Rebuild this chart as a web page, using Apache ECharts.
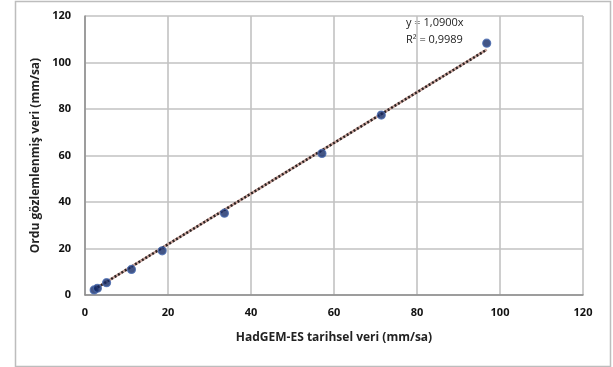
<!DOCTYPE html>
<html>
<head>
<meta charset="utf-8">
<script src="https://cdn.jsdelivr.net/npm/echarts@6/dist/echarts.min.js"></script>
<style>
  html, body { margin: 0; padding: 0; background: #fff; }
  #chart { width: 613px; height: 367px; }
</style>
</head>
<body>
<div id="chart"></div>
<script>
// HadGEM-ES historical vs. Ordu observed values (mm/sa)
const modelValues = [2.2, 3.0, 5.2, 11.2, 18.6, 33.6, 57.1, 71.4, 96.8];
const observedValues = [2.2, 2.9, 5.3, 11.0, 19.0, 35.2, 60.9, 77.4, 108.3];
const trendSlope = 1.09;
const trendText = ['y = 1,0900x', 'R² = 0,9989'];
const axisTicks = [0, 20, 40, 60, 80, 100, 120];

const points = modelValues.map((x, i) => [x, observedValues[i]]);
const xMin = Math.min(...modelValues), xMax = Math.max(...modelValues);
const trend = [[xMin, trendSlope * xMin], [xMax, trendSlope * xMax]];

const font = '"Open Sans", "DejaVu Sans", sans-serif';
const gridColor = '#c2c2c2';

const chart = echarts.init(document.getElementById('chart'));
chart.setOption({
  animation: false,
  backgroundColor: '#fff',
  grid: { left: 85, right: 30, top: 16, bottom: 72 },
  xAxis: {
    type: 'value', min: axisTicks[0], max: axisTicks[axisTicks.length - 1], interval: 20,
    name: 'HadGEM-ES tarihsel veri (mm/sa)',
    nameLocation: 'middle', nameGap: 37,
    nameTextStyle: { fontFamily: font, fontWeight: 'bold', fontSize: 12, color: '#222' },
    axisLine: { lineStyle: { color: '#8c8c8c', width: 1.5 } },
    axisTick: { show: false },
    axisLabel: { fontFamily: font, fontWeight: 'bold', fontSize: 11, color: '#111', margin: 12 },
    splitLine: { show: true, lineStyle: { color: gridColor, width: 1.6 } }
  },
  yAxis: {
    type: 'value', min: axisTicks[0], max: axisTicks[axisTicks.length - 1], interval: 20,
    name: 'Ordu gözlemlenmiş veri (mm/sa)',
    nameLocation: 'middle', nameGap: 39,
    nameTextStyle: { fontFamily: font, fontWeight: 'bold', fontSize: 12, color: '#222' },
    axisLine: { show: true, lineStyle: { color: '#8c8c8c', width: 1.5 } },
    axisTick: { show: false },
    axisLabel: { fontFamily: font, fontWeight: 'bold', fontSize: 11, color: '#111', margin: 14 },
    splitLine: { show: true, lineStyle: { color: gridColor, width: 1.6 } }
  },
  series: [
    {
      type: 'line', data: trend, symbol: 'none', silent: true, z: 2,
      lineStyle: { color: '#c9a39b', width: 2.5 }
    },
    {
      type: 'line', data: trend, symbol: 'none', silent: true, z: 3,
      lineStyle: { color: '#2b2222', width: 2.5, type: [2, 2] }
    },
    {
      type: 'scatter', data: points, symbol: 'circle', symbolSize: 8, z: 4,
      itemStyle: { color: '#142a66', borderColor: '#4a6bb0', borderWidth: 1.2 }
    }
  ],
  graphic: [
    {
      type: 'rect', left: 13, top: -1, z: -1, silent: true,
      shape: { width: 595, height: 365 },
      style: { fill: 'none', stroke: '#bdbdbd', lineWidth: 1.5 }
    },
    {
      type: 'text', left: 406, top: 14,
      style: { text: trendText.join('\n'), font: '11px ' + font, fill: '#222', lineHeight: 17 }
    }
  ]
});
</script>
</body>
</html>
